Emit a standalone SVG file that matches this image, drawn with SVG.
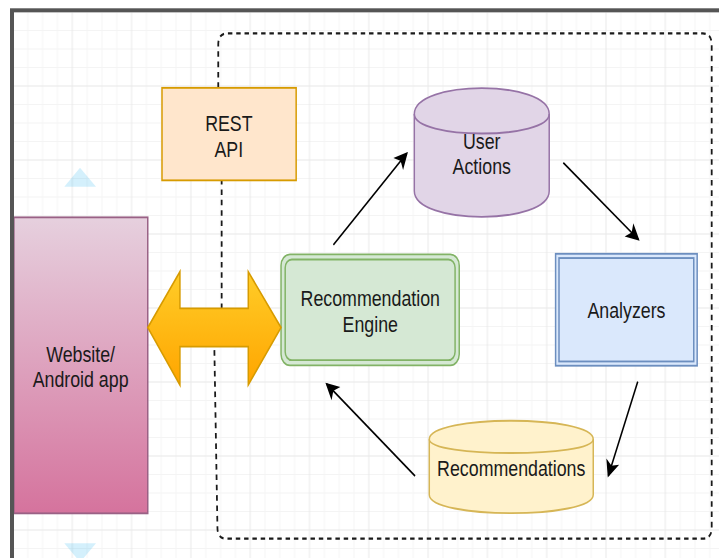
<svg xmlns="http://www.w3.org/2000/svg" width="719" height="558" viewBox="0 0 719 558">
  <style>
    text { font-family: "Liberation Sans", Arial, Helvetica, sans-serif; font-size: 12px; fill: #1a1a1a; text-anchor: middle; }
    .edge { fill: none; stroke: #000; stroke-width: 1; marker-end: url(#arrow); }
    .hint { fill: #29b6f2; fill-opacity: 0.2; }
  </style>
  <defs>
    <pattern id="grid" width="40" height="40" patternUnits="userSpaceOnUse">
      <path d="M10 0V40M20 0V40M30 0V40M0 10H40M0 20H40M0 30H40" stroke="#f4f4f4" stroke-width="0.65" fill="none"/>
      <path d="M0 0V40M40 0V40M0 0H40M0 40H40" stroke="#e8e8e8" stroke-width="0.65" fill="none"/>
    </pattern>
    <linearGradient id="gradPink" x1="0" y1="0" x2="0" y2="1">
      <stop offset="0" stop-color="#e6d0de"/>
      <stop offset="1" stop-color="#d5739d"/>
    </linearGradient>
    <linearGradient id="gradOrange" x1="0" y1="0" x2="0" y2="1">
      <stop offset="0" stop-color="#ffcd28"/>
      <stop offset="1" stop-color="#ffa500"/>
    </linearGradient>
    <marker id="arrow" viewBox="-8 -4 9 8" refX="0" refY="0" markerWidth="9" markerHeight="8" markerUnits="userSpaceOnUse" orient="auto" overflow="visible">
      <path d="M0,0 L-7,-3.5 L-5.25,0 L-7,3.5 Z" fill="#000" stroke="#000" stroke-width="1" stroke-linejoin="miter"/>
    </marker>
  </defs>

  <rect width="719" height="558" fill="#fff"/>

  <!-- canvas in page units, stretched to the viewport -->
  <g transform="translate(13 12) scale(1.4825 1.85)">
    <g id="grid">
      <rect x="-1" y="-1" width="480" height="300" fill="url(#grid)"/>
    </g>

    <!-- dashed service boundary -->
    <g id="boundary">
      <path d="M138.45,41 V17.6 Q138.45,11.6 144.45,11.6 H465.3 Q471.3,11.6 471.3,17.6 V278.7 Q471.3,284.7 465.3,284.7 H143.9 Q137.9,284.7 137.9,278.7 L135.8,181 M140.75,160.5 V91" fill="none" stroke="#1a1a1a" stroke-width="1.2" stroke-dasharray="3 2.6"/>
    </g>

    <g id="rest-api">
      <rect x="100.5" y="41" width="90.5" height="50" fill="#ffe6cc" stroke="#d79b00" stroke-width="1"/>
      <text x="145.6" y="64.2">REST</text>
      <text x="145.6" y="78.2">API</text>
    </g>

    <g id="user-actions">
      <path d="M270.7,55.2 C270.7,36.5 361.7,36.5 361.7,55.2 L361.7,96.7 C361.7,115.4 270.7,115.4 270.7,96.7 Z" fill="#e1d5e7" stroke="#9673a6" stroke-width="1"/>
      <path d="M270.7,55.2 C270.7,69.2 361.7,69.2 361.7,55.2" fill="none" stroke="#9673a6" stroke-width="1"/>
      <text x="316.2" y="74.1">User</text>
      <text x="316.2" y="87.8">Actions</text>
    </g>

    <g id="website">
      <rect x="0.6" y="111" width="90.3" height="160" fill="url(#gradPink)" stroke="#996185" stroke-width="1"/>
      <text x="45.6" y="189">Website/</text>
      <text x="45.6" y="202.6">Android app</text>
    </g>

    <g id="recommendation-engine">
      <rect x="180.8" y="131" width="120.2" height="60" rx="6" ry="6" fill="#d5e8d4" stroke="#82b366" stroke-width="1"/>
      <rect x="183.6" y="133.8" width="114.6" height="54.4" rx="4.5" ry="4.5" fill="none" stroke="#82b366" stroke-width="1"/>
      <text x="241" y="158.9">Recommendation</text>
      <text x="241" y="172.8">Engine</text>
    </g>

    <g id="analyzers">
      <rect x="366" y="130.7" width="95.5" height="60.5" fill="#dae8fc" stroke="#6c8ebf" stroke-width="1"/>
      <rect x="368.3" y="133" width="90.9" height="55.9" fill="none" stroke="#6c8ebf" stroke-width="1"/>
      <text x="413.8" y="165.6">Analyzers</text>
    </g>

    <g id="recommendations">
      <path d="M280.8,230.9 C280.8,217.6 391.4,217.6 391.4,230.9 L391.4,260.9 C391.4,274.2 280.8,274.2 280.8,260.9 Z" fill="#fff2cc" stroke="#d6b656" stroke-width="1"/>
      <path d="M280.8,230.9 C280.8,240.9 391.4,240.9 391.4,230.9" fill="none" stroke="#d6b656" stroke-width="1"/>
      <text x="336.1" y="250.6">Recommendations</text>
    </g>

    <g id="connectors">
      <path d="M90.9,170.6 L112.6,140.4 L112.6,160.2 L158.7,160.2 L158.7,140.4 L180.8,170.6 L158.7,201.6 L158.7,180.9 L112.6,180.9 L112.6,201.6 Z" fill="url(#gradOrange)" stroke="#d79b00" stroke-width="1" stroke-linejoin="miter"/>
      <path class="edge" d="M216.1,125.9 L265.6,76.4"/>
      <path class="edge" d="M371.2,81.5 L421.8,122.9"/>
      <path class="edge" d="M421.4,199.8 L401.6,250.6"/>
      <path class="edge" d="M271.2,250.8 L211.6,201.1"/>
    </g>

    <!-- hover hints -->
    <g id="hints">
      <path class="hint" d="M45.2,84.2 L56,94.4 L34.6,94.4 Z"/>
      <path class="hint" d="M34.6,287.2 L56,287.2 L45.3,297.4 Z"/>
    </g>
  </g>

  <!-- viewport frame -->
  <rect x="12" y="10.3" width="800" height="700" fill="none" stroke="#555" stroke-width="4"/>
</svg>
